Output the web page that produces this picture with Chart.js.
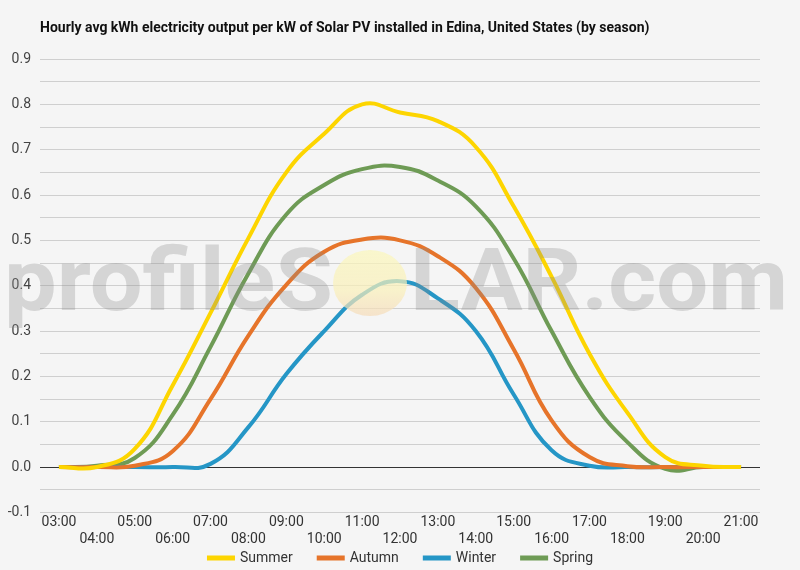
<!DOCTYPE html>
<html>
<head>
<meta charset="utf-8">
<script src="https://cdn.jsdelivr.net/npm/chart.js@4.4.1/dist/chart.umd.min.js"></script>
<style>
  html, body { margin: 0; padding: 0; background: #f5f5f5; }
  #wrap { width: 800px; height: 570px; position: relative; }
</style>
</head>
<body>
<div id="wrap"><canvas id="solarChart"></canvas></div>
<script>
const chartTitle = 'Hourly avg kWh electricity output per kW of Solar PV installed in Edina, United States (by season)';

const hours = ['03:00', '04:00', '05:00', '06:00', '07:00', '08:00', '09:00', '10:00', '11:00', '12:00',
               '13:00', '14:00', '15:00', '16:00', '17:00', '18:00', '19:00', '20:00', '21:00'];

const summer = [0, 0.0, 0.04, 0.18, 0.34, 0.505, 0.65, 0.735, 0.80, 0.782, 0.763, 0.706, 0.575, 0.42, 0.25, 0.12, 0.022, 0.003, 0];
const autumn = [0, 0, 0.003, 0.035, 0.15, 0.29, 0.402, 0.475, 0.502, 0.50, 0.465, 0.395, 0.26, 0.103, 0.022, 0.002, 0, 0, 0];
const winter = [0, 0, 0, 0, 0.007, 0.088, 0.205, 0.30, 0.38, 0.41, 0.372, 0.30, 0.16, 0.037, 0.003, 0, 0, 0, 0];
const spring = [0, 0.003, 0.02, 0.115, 0.265, 0.427, 0.557, 0.622, 0.657, 0.662, 0.632, 0.575, 0.46, 0.30, 0.155, 0.055, -0.004, 0, 0];

const seriesNames = ['Summer', 'Autumn', 'Winter', 'Spring'];
const seriesColors = ['#fdd500', '#e6742a', '#2596c6', '#6e9b55'];

// tiêu đề, watermark và chú giải vẽ tay
const decorPlugin = {
    id: 'decor',
    afterDatasetsDraw(chart) {
        const ctx = chart.ctx;
        ctx.save();
        // watermark
        ctx.font = 'bold 88px Roboto';
        ctx.textBaseline = 'alphabetic';
        ctx.fillStyle = 'rgba(140,140,140,0.3)';
        const left = 'profileS';
        const right = 'LAR.com';
        const wl = ctx.measureText(left).width;
        const wr = ctx.measureText(right).width;
        ctx.save();
        ctx.translate(4, 310);
        ctx.scale(329 / wl, 1);
        ctx.fillText(left, 0, 0);
        ctx.restore();
        ctx.save();
        ctx.translate(410, 310);
        ctx.scale(378 / wr, 1);
        ctx.fillText(right, 0, 0);
        ctx.restore();
        // mặt trời
        const g = ctx.createLinearGradient(0, 250, 0, 317);
        g.addColorStop(0, 'rgba(250,246,190,0.75)');
        g.addColorStop(0.6, 'rgba(250,240,185,0.7)');
        g.addColorStop(1, 'rgba(245,218,185,0.7)');
        ctx.fillStyle = g;
        ctx.beginPath();
        ctx.ellipse(370, 283, 37, 33, 0, 0, Math.PI * 2);
        ctx.fill();
        ctx.restore();
    },
    afterDraw(chart) {
        const ctx = chart.ctx;
        ctx.save();
        ctx.font = 'bold 14px Roboto';
        ctx.fillStyle = '#111';
        ctx.textBaseline = 'middle';
        ctx.fillText(chartTitle, 40, 28);

        // chú giải
        ctx.font = '14px Roboto';
        const boxW = 28, gap = 5, spacing = 24;
        const items = chart.data.datasets.map(ds => ({ text: ds.label, color: ds.borderColor, w: ctx.measureText(ds.label).width }));
        const total = items.reduce((a, it) => a + boxW + gap + it.w, 0) + spacing * (items.length - 1);
        let x = 400 - total / 2;
        const y = 558;
        items.forEach(it => {
            ctx.fillStyle = it.color;
            ctx.fillRect(x, y - 2.5, boxW, 5);
            ctx.fillStyle = '#333';
            ctx.fillText(it.text, x + boxW + gap, y);
            x += boxW + gap + it.w + spacing;
        });
        ctx.restore();
    }
};

const ctx = document.getElementById('solarChart').getContext('2d');
const chart = new Chart(ctx, {
    type: 'line',
    data: {
        labels: hours,
        datasets: [summer, autumn, winter, spring].map((vals, i) => ({
            label: seriesNames[i],
            data: vals,
            borderColor: seriesColors[i],
            backgroundColor: seriesColors[i],
            borderWidth: 4,
            pointRadius: 0,
            tension: 0.45,
            fill: false
        }))
    },
    options: {
        responsive: true,
        maintainAspectRatio: false,
        animation: false,
        layout: {
            padding: { top: 59, right: 40, bottom: 20, left: 0 }
        },
        plugins: {
            legend: { display: false },
            tooltip: { enabled: false }
        },
        scales: {
            x: {
                offset: true,
                grid: { display: false, drawTicks: false, tickLength: 0 },
                border: { display: false },
                ticks: {
                    autoSkip: false,
                    maxRotation: 0,
                    padding: 2,
                    color: '#333',
                    font: { family: 'Roboto', size: 14 },
                    callback: function(value, index) {
                        return index % 2 ? ['', hours[index]] : [hours[index]];
                    }
                }
            },
            y: {
                min: -0.1,
                max: 0.9,
                afterFit: function(scale) { scale.width = 40; },
                border: { display: false },
                grid: {
                    drawTicks: false,
                    color: function(c) {
                        return Math.abs(c.tick.value) < 1e-9 ? '#333' : '#cfcfcf';
                    }
                },
                ticks: {
                    stepSize: 0.05,
                    padding: 9,
                    color: '#444',
                    font: { family: 'Roboto', size: 14 },
                    callback: function(value) {
                        const r = Math.round(value * 100);
                        return r % 10 === 0 ? (r / 100).toFixed(1) : '';
                    }
                }
            }
        }
    },
    plugins: [decorPlugin]
});
</script>
</body>
</html>
